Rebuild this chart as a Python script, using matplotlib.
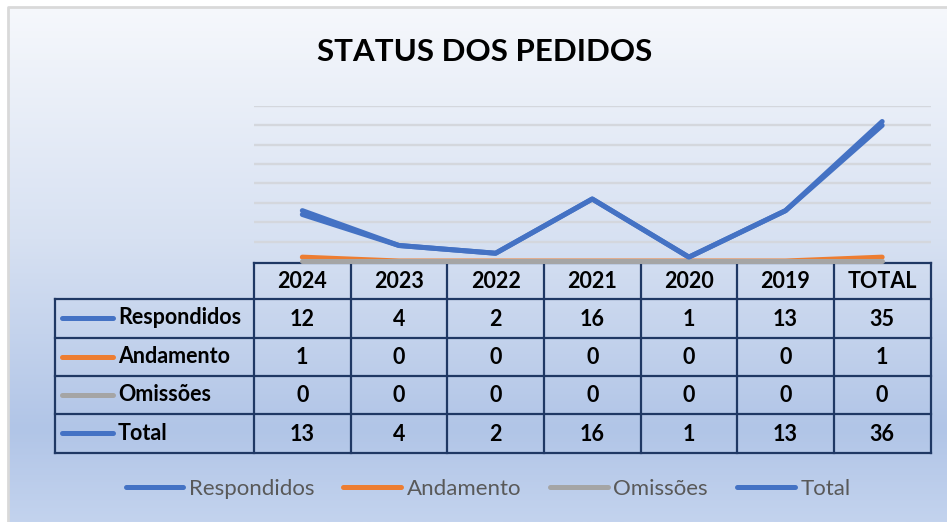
import numpy as np
import matplotlib
matplotlib.use('Agg')
import matplotlib.pyplot as plt
from matplotlib.colors import LinearSegmentedColormap
from matplotlib.lines import Line2D

plt.rcParams['font.family'] = ['Lato', 'DejaVu Sans']

# Data
categories = ['2024', '2023', '2022', '2021', '2020', '2019', 'TOTAL']
series_names = ['Respondidos', 'Andamento', 'Omissões', 'Total']
respondidos = [12, 4, 2, 16, 1, 13, 35]
andamento = [1, 0, 0, 0, 0, 0, 1]
omissoes = [0, 0, 0, 0, 0, 0, 0]
total = [13, 4, 2, 16, 1, 13, 36]
series_values = [respondidos, andamento, omissoes, total]
colors = ['#4472C4', '#ED7D31', '#A5A5A5', '#4472C4']
title = 'STATUS DOS PEDIDOS'

W, H = 947, 522
fig = plt.figure(figsize=(W / 100, H / 100), dpi=100)

# Background with gradient (chart area)
bg = fig.add_axes([0, 0, 1, 1])
bg.set_xlim(0, W)
bg.set_ylim(H, 0)
bg.axis('off')
cmap = LinearSegmentedColormap.from_list(
    'bg', [(0.0, '#F6F8FC'), (0.45, '#D7E1F2'), (0.82, '#B1C5E7'), (1.0, '#C3D3EE')])
grad = np.linspace(0, 1, 256).reshape(-1, 1)
bg.imshow(grad, cmap=cmap, aspect='auto', extent=[8, W, H, 7], zorder=0)
bg.plot([8, 8, W], [H, 7, 7], color='#D9D9D9', lw=2, zorder=1)

# Plot area (pixels: x 254-930, y 106-261)
px0, px1, py0, py1 = 254, 930.5, 106, 261
ax = fig.add_axes([px0 / W, 1 - py1 / H, (px1 - px0) / W, (py1 - py0) / H])
ax.patch.set_alpha(0)
ax.set_xlim(-0.5, len(categories) - 0.5)
ax.set_ylim(0, 40)
for v in range(5, 45, 5):
    ax.axhline(v, color='#D4D7DD', lw=1.7, zorder=1)
x = np.arange(len(categories))
for name, vals, c in zip(series_names, series_values, colors):
    ax.plot(x, vals, color=c, lw=3.6, solid_capstyle='round', solid_joinstyle='round',
            clip_on=False, zorder=3, label=name)
ax.set_xticks([])
ax.set_yticks([])
for s in ax.spines.values():
    s.set_visible(False)

# Title
bg.text(485, 52, title, ha='center', va='center', fontsize=22.5, fontweight='bold', color='black')

# Data table (pixel coordinates on bg axes)
edge = '#1F3864'
col_w = (px1 - px0) / len(categories)
col_x = [px0 + i * col_w for i in range(len(categories) + 1)]
row_y = [262.5, 298.5, 337.5, 375.5, 414, 452.5]
tx0 = 55
bg.plot([px0, px1], [row_y[0], row_y[0]], color=edge, lw=1.6, zorder=4)
for cx in col_x:
    bg.plot([cx, cx], [row_y[0], row_y[-1]], color=edge, lw=1.6, zorder=4)
for ry in row_y[1:]:
    bg.plot([tx0, px1], [ry, ry], color=edge, lw=1.6, zorder=4)
bg.plot([tx0, tx0], [row_y[1], row_y[-1]], color=edge, lw=1.6, zorder=4)

fs = 15.5
for i, cat in enumerate(categories):
    bg.text(col_x[i] + col_w / 2, (row_y[0] + row_y[1]) / 2 + 1, cat, ha='center', va='center',
            fontsize=fs, fontweight='bold', color='black', zorder=5)
for r, (name, vals, c) in enumerate(zip(series_names, series_values, colors)):
    yc = (row_y[r + 1] + row_y[r + 2]) / 2
    bg.plot([62, 113], [yc, yc], color=c, lw=3.6, solid_capstyle='round', zorder=5)
    bg.text(118, yc, name, ha='left', va='center', fontsize=fs, fontweight='bold',
            color='black', zorder=5)
    for i, v in enumerate(vals):
        bg.text(col_x[i] + col_w / 2, yc + 1, str(v), ha='center', va='center',
                fontsize=fs, fontweight='bold', color='black', zorder=5)

# Legend
handles = [Line2D([], [], color=c, lw=3.6, solid_capstyle='round') for c in colors]
leg = fig.legend(handles, series_names, loc='center', bbox_to_anchor=(488 / W, 1 - 489 / H),
                 ncol=4, frameon=False, fontsize=16, handlelength=2.6, handletextpad=0.25,
                 columnspacing=1.3)
for t in leg.get_texts():
    t.set_color('#595959')

fig.savefig('out.png', dpi=100)
